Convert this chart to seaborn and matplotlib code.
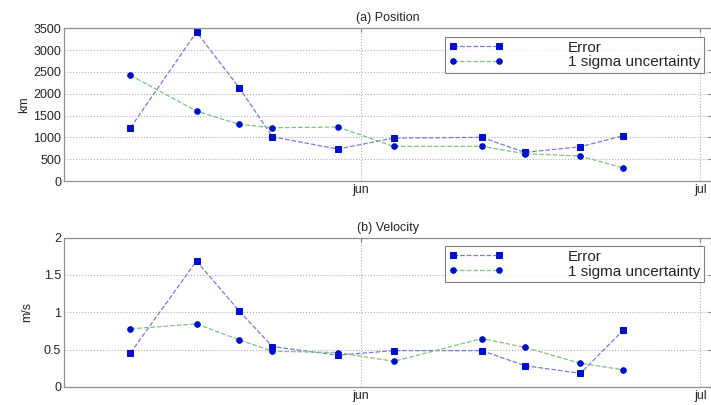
import numpy as np
import pandas as pd
import matplotlib
matplotlib.use("Agg")
import matplotlib.pyplot as plt
import seaborn as sns

sns.set_style("white")
plt.rcParams['font.family'] = ['Liberation Sans', 'DejaVu Sans']

obs_times = pd.to_datetime([
    "2003-05-11 16:00", "2003-05-17 12:00", "2003-05-21 07:00",
    "2003-05-24 05:00", "2003-05-30 00:00", "2003-06-03 22:00",
    "2003-06-11 17:00", "2003-06-15 12:00", "2003-06-20 10:00",
    "2003-06-24 05:00"])

pos_error = [1222, 3415, 2131, 1015, 733, 985, 1001, 657, 786, 1038]
pos_sigma = [2422, 1604, 1299, 1222, 1238, 795, 795, 626, 573, 298]

vel_error = [0.455, 1.687, 1.014, 0.539, 0.424, 0.485, 0.485, 0.284, 0.180, 0.760]
vel_sigma = [0.778, 0.844, 0.629, 0.477, 0.459, 0.341, 0.647, 0.529, 0.315, 0.228]

month_ticks = pd.to_datetime(["2003-06-01", "2003-07-01"])
month_labels = ["jun", "jul"]

panels = [
    ("(a) Position", "km", pos_error, pos_sigma, np.arange(0, 3501, 500), (0, 3500)),
    ("(b) Velocity", "m/s", vel_error, vel_sigma, [0, 0.5, 1, 1.5, 2], (0, 2)),
]

fig = plt.figure(figsize=(7.11, 4.05), dpi=100)
ax_pos = [[0.090, 0.553, 0.912, 0.377], [0.090, 0.045, 0.912, 0.368]]

err_line = '#7a7ad6'
sig_line = '#7fc27f'
mk = '#0010c8'

for i, (title, ylab, err, sig, yt, ylim) in enumerate(panels):
    ax = fig.add_axes(ax_pos[i])
    sns.lineplot(x=obs_times, y=err, ax=ax, color=err_line, linestyle='--', lw=0.9,
                 marker='s', markersize=4, markerfacecolor=mk, markeredgecolor=mk,
                 label='Error')
    sns.lineplot(x=obs_times, y=sig, ax=ax, color=sig_line, linestyle='--', lw=0.9,
                 marker='o', markersize=4, markerfacecolor=mk, markeredgecolor=mk,
                 label='1 sigma uncertainty')
    ax.set_xlim(pd.Timestamp("2003-05-05 19:00"), pd.Timestamp("2003-07-02 02:00"))
    ax.set_ylim(*ylim)
    ax.set_yticks(yt)
    ax.set_yticklabels([f"{v:g}" for v in yt])
    ax.set_xticks(month_ticks)
    ax.set_xticklabels(month_labels)
    ax.grid(True, linestyle=':', color='#b0b0b0', lw=0.8)
    ax.tick_params(direction='in', length=3, color='#808080', labelsize=9,
                   top=True, right=True, pad=2)
    for s in ax.spines.values():
        s.set_color('#909090')
        s.set_linewidth(0.9)
    ax.set_title(title, fontsize=9, pad=5)
    ax.set_ylabel(ylab, fontsize=9, labelpad=2 if i == 0 else 8)
    ax.set_xlabel('')
    leg = ax.legend(loc='upper right', bbox_to_anchor=(0.987, 0.945), fontsize=11,
                    numpoints=2, handlelength=3.6, handletextpad=4.2,
                    frameon=True, fancybox=False, borderpad=0.25, labelspacing=0.05,
                    borderaxespad=0)
    leg.get_frame().set_edgecolor('#606060')
    leg.get_frame().set_linewidth(0.8)

fig.savefig("out.png", dpi=100)
